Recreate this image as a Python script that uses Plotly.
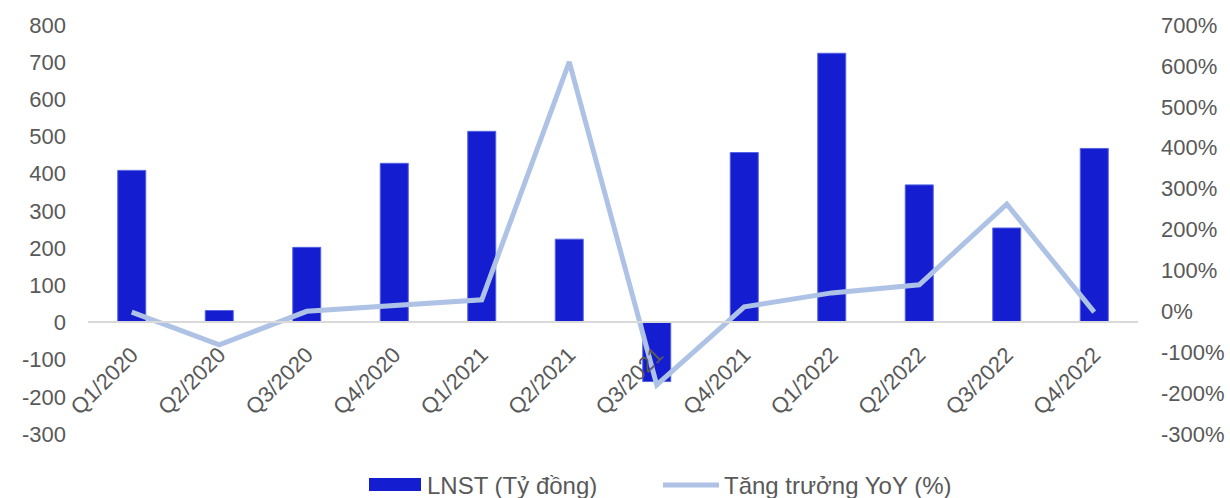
import plotly.graph_objects as go

# Quarterly net profit (LNST, billion VND) and YoY growth
quarters = ["Q1/2020", "Q2/2020", "Q3/2020", "Q4/2020", "Q1/2021", "Q2/2021",
            "Q3/2021", "Q4/2021", "Q1/2022", "Q2/2022", "Q3/2022", "Q4/2022"]
lnst = [409, 32, 202, 428, 514, 224, -159, 457, 724, 370, 254, 468]
yoy = [-0.02, -0.82, 0.00, 0.13, 0.28, 6.10, -1.80, 0.11, 0.45, 0.65, 2.62, -0.02]

left_ticks = [-300, -200, -100, 0, 100, 200, 300, 400, 500, 600, 700, 800]
left_labels = ["-300", "-200", "-100", "0", "100", "200", "300", "400", "500", "600", "700", "800"]
right_ticks = [-3, -2, -1, 0, 1, 2, 3, 4, 5, 6, 7]
right_labels = ["-300%", "-200%", "-100%", "0%", "100%", "200%", "300%", "400%", "500%", "600%", "700%"]

bar_name = "LNST (Tỷ đồng)"
line_name = "Tăng trưởng YoY (%)"

BAR_COLOR = "#141DCF"
LINE_COLOR = "#AEC2E6"
TEXT_COLOR = "#595959"
FONT = "Liberation Sans, Arial, sans-serif"
TICK_SIZE = 22
LEGEND_SIZE = 24

W, H = 1230, 498
ML, MR, MT, MB = 88, 92, 25, 64
PW, PH = W - ML - MR, H - MT - MB

fig = go.Figure()
fig.add_trace(go.Bar(
    x=quarters, y=lnst, name=bar_name, width=0.32,
    marker=dict(color=BAR_COLOR, line=dict(color="#5563E6", width=1)),
    yaxis="y", showlegend=False,
))
fig.add_trace(go.Scatter(
    x=quarters, y=yoy, name=line_name, mode="lines",
    line=dict(color=LINE_COLOR, width=5),
    yaxis="y2", showlegend=False,
))

zero_frac = (0 - left_ticks[0]) / (left_ticks[-1] - left_ticks[0])

fig.update_layout(
    width=W, height=H,
    margin=dict(l=ML, r=MR, t=MT, b=MB, autoexpand=False),
    paper_bgcolor="white", plot_bgcolor="white",
    font=dict(family=FONT, size=TICK_SIZE, color=TEXT_COLOR),
    xaxis=dict(
        type="category", anchor="free", position=zero_frac, automargin=False,
        showline=True, linecolor="#D9D9D9", linewidth=1.5,
        showgrid=False, ticks="", tickangle=-45,
        ticklabelstandoff=10,
        tickfont=dict(size=TICK_SIZE, color=TEXT_COLOR),
    ),
    yaxis=dict(
        range=[left_ticks[0], left_ticks[-1]], tickvals=left_ticks, ticktext=left_labels,
        showgrid=False, zeroline=False, showline=False, ticks="", automargin=False,
        ticklabelstandoff=21,
        tickfont=dict(size=TICK_SIZE, color=TEXT_COLOR),
    ),
    yaxis2=dict(
        overlaying="y", side="right", automargin=False,
        range=[right_ticks[0], right_ticks[-1]], tickvals=right_ticks, ticktext=right_labels,
        showgrid=False, zeroline=False, showline=False, ticks="",
        ticklabelstandoff=22,
        tickfont=dict(size=TICK_SIZE, color=TEXT_COLOR),
    ),
    bargap=0.68,
)

# Legend drawn below the plot
def px_x(px):
    return (px - ML) / PW

def px_y(py):
    return (H - MB - py) / PH

leg_y = 485
fig.add_shape(type="rect", xref="paper", yref="paper",
              x0=px_x(369), x1=px_x(421), y0=px_y(491), y1=px_y(478),
              fillcolor=BAR_COLOR, line=dict(width=0))
fig.add_annotation(xref="paper", yref="paper", x=px_x(425), y=px_y(leg_y),
                   text=bar_name, showarrow=False, xanchor="left", yanchor="middle",
                   font=dict(size=LEGEND_SIZE, color=TEXT_COLOR, family=FONT))
fig.add_shape(type="line", xref="paper", yref="paper",
              x0=px_x(663), x1=px_x(719), y0=px_y(leg_y), y1=px_y(leg_y),
              line=dict(color=LINE_COLOR, width=5))
fig.add_annotation(xref="paper", yref="paper", x=px_x(722), y=px_y(leg_y),
                   text=line_name, showarrow=False, xanchor="left", yanchor="middle",
                   font=dict(size=LEGEND_SIZE, color=TEXT_COLOR, family=FONT))

fig.write_html("out.html")
